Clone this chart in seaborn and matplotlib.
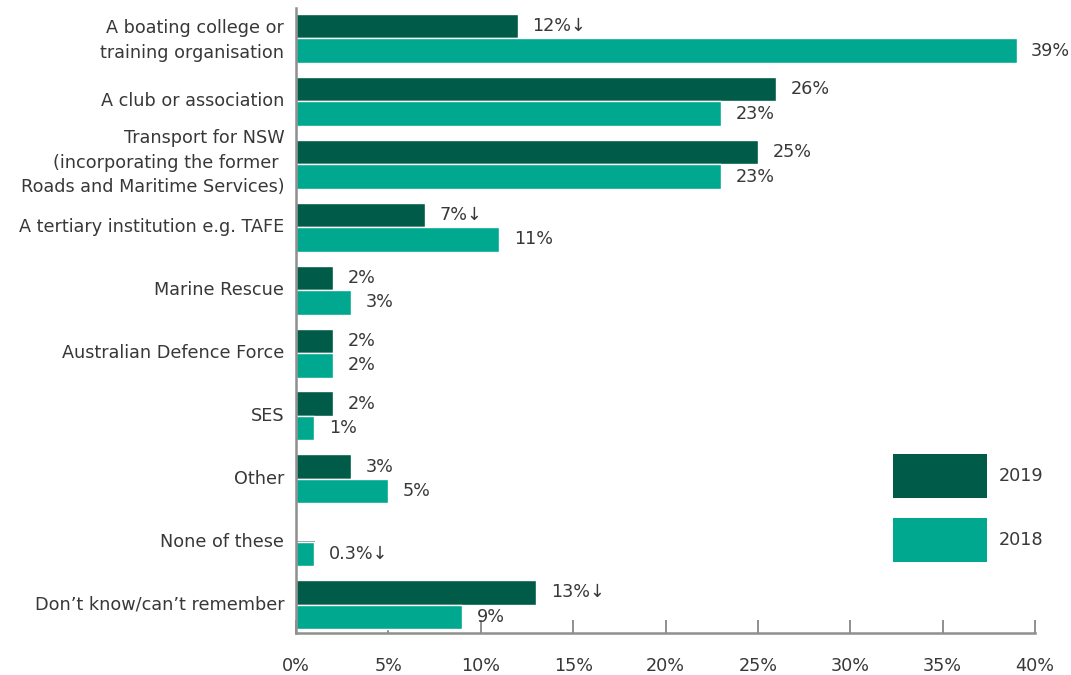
import numpy as np
import pandas as pd
import matplotlib
matplotlib.use("Agg")
import matplotlib.pyplot as plt
import matplotlib.transforms as mtransforms
import seaborn as sns

# Where boating knowledge / training was obtained (% of respondents)
categories = [
    "A boating college or\ntraining organisation",
    "A club or association",
    "Transport for NSW\n(incorporating the former \nRoads and Maritime Services)",
    "A tertiary institution e.g. TAFE",
    "Marine Rescue",
    "Australian Defence Force",
    "SES",
    "Other",
    "None of these",
    "Don\u2019t know/can\u2019t remember",
]
share_2019 = [12, 26, 25, 7, 2, 2, 2, 3, np.nan, 13]
share_2018 = [39, 23, 23, 11, 3, 2, 1, 5, 1, 9]
labels_2019 = ["12%\u2193", "26%", "25%", "7%\u2193", "2%", "2%", "2%", "3%", "", "13%\u2193"]
labels_2018 = ["39%", "23%", "23%", "11%", "3%", "2%", "1%", "5%", "0.3%\u2193", "9%"]
years = ["2019", "2018"]
x_ticks = [0, 5, 10, 15, 20, 25, 30, 35, 40]
x_tick_labels = ["0%", "5%", "10%", "15%", "20%", "25%", "30%", "35%", "40%"]

colors = {"2019": "#005B48", "2018": "#00A88F"}
text_color = "#383838"
axis_color = "#8F8F8F"
font_size = 12.7

df = pd.DataFrame({
    "category": categories * 2,
    "year": ["2019"] * len(categories) + ["2018"] * len(categories),
    "share": share_2019 + share_2018,
})

sns.set_theme(style="white")
plt.rcParams["font.family"] = ["DejaVu Sans"]
plt.rcParams["text.color"] = text_color

fig = plt.figure(figsize=(10.71, 6.75), dpi=100)
ax = fig.add_axes([0.2764, 0.0622, 0.6900, 0.926])

sns.barplot(
    data=df, y="category", x="share", hue="year", hue_order=years,
    order=categories, palette=colors, orient="h", width=0.78,
    saturation=1, errorbar=None, ax=ax, legend=False,
)

ax.set_xlim(0, 40)
ax.set_ylim(9.45, -0.485)
ax.set_xlabel("")
ax.set_ylabel("")
ax.set_axisbelow(True)

ax.set_xticks(x_ticks)
ax.set_xticklabels(x_tick_labels)
ax.tick_params(axis="x", bottom=True, direction="in", length=9.5, width=1.4,
               color=axis_color, pad=17, labelsize=font_size, labelcolor=text_color)
ax.tick_params(axis="y", left=True, direction="in", length=14, width=1.4,
               color=axis_color, pad=8.5, labelsize=font_size, labelcolor=text_color)

# nudge category labels up slightly so multi-line blocks sit centred on their group
lift_pts = {1: 1.5, 2: 2.2, 3: 5.0}
for lbl in ax.get_yticklabels():
    lbl.set_linespacing(1.47)
    n_lines = lbl.get_text().count("\n") + 1
    dy = lift_pts.get(n_lines, 1.5) / 72
    lbl.set_transform(lbl.get_transform() + mtransforms.ScaledTranslation(0, dy, fig.dpi_scale_trans))

for side in ["top", "right"]:
    ax.spines[side].set_visible(False)
for side in ["left", "bottom"]:
    ax.spines[side].set_color(axis_color)
    ax.spines[side].set_linewidth(1.8)

# value labels next to each bar
label_map = {"2019": labels_2019, "2018": labels_2018}
for year, container in zip(years, ax.containers):
    for patch in container.patches:
        w = patch.get_width()
        if np.isnan(w):
            continue
        yc = patch.get_y() + patch.get_height() / 2
        idx = int(round(yc))
        text = label_map[year][idx]
        if not text:
            continue
        ax.annotate(text, xy=(w, yc), xytext=(10.5, 0), textcoords="offset points",
                    va="center", ha="left", fontsize=font_size, color=text_color)

# legend with large colour blocks
handles = [plt.Rectangle((0, 0), 1, 1, facecolor=colors[y], edgecolor="none") for y in years]
fig.legend(handles, years, loc="upper left", bbox_to_anchor=(0.8338, 0.3274),
           frameon=False, borderpad=0, borderaxespad=0, fontsize=font_size,
           handlelength=5.35, handleheight=3.48, labelspacing=1.13, handletextpad=0.62)

fig.savefig("out.png", dpi=100)
